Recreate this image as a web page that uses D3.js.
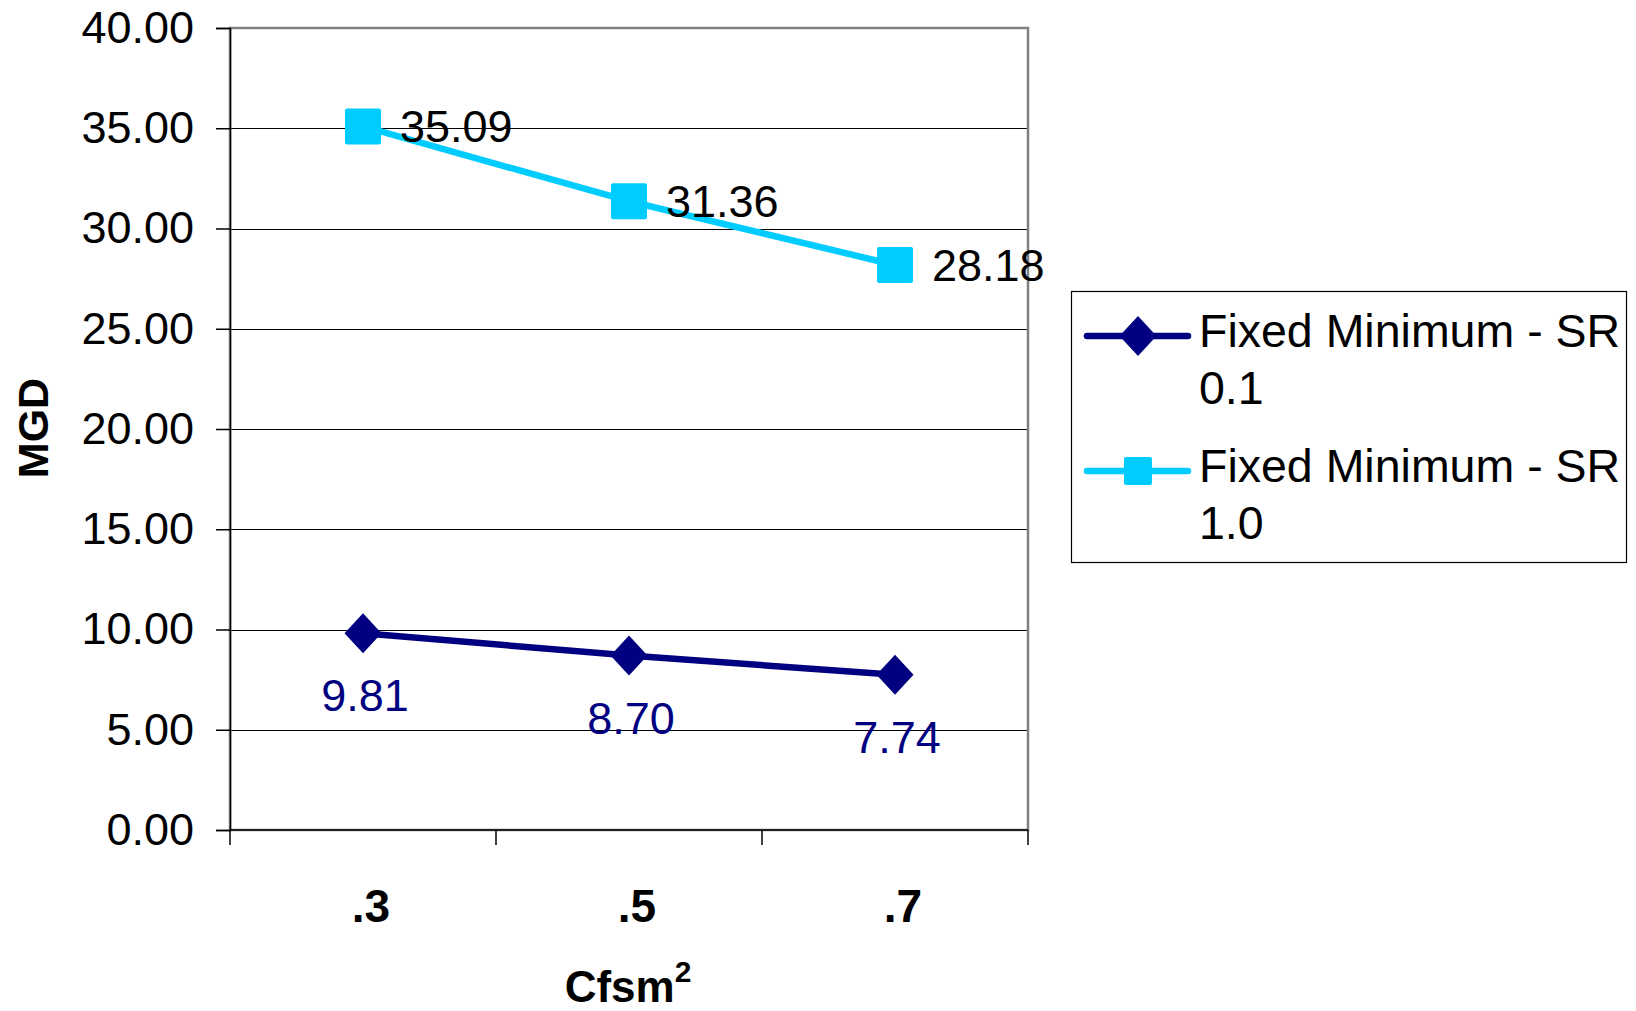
<!DOCTYPE html>
<html>
<head>
<meta charset="utf-8">
<script src="https://cdn.jsdelivr.net/npm/d3@7"></script>
<style>
  html, body { margin: 0; padding: 0; background: #fff; }
  svg { display: block; font-family: "Liberation Sans", Arial, sans-serif; }
</style>
</head>
<body>
<svg id="chart" width="1636" height="1011"></svg>
<script>
// Categories and series values
const categories = [".3", ".5", ".7"];
const seriesSR01 = [9.81, 8.70, 7.74];
const seriesSR10 = [35.09, 31.36, 28.18];
const seriesNames = ["Fixed Minimum - SR 0.1", "Fixed Minimum - SR 1.0"];
const yTicks = [0, 5, 10, 15, 20, 25, 30, 35, 40];

const navy = "#000080";
const cyan = "#00CCFF";

const svg = d3.select("#chart");

const plot = { left: 230, right: 1028, top: 28, bottom: 830 };

const x = d3.scaleBand().domain(categories).range([plot.left, plot.right]).padding(0);
const y = d3.scaleLinear().domain([0, 40]).range([plot.bottom, plot.top]);

// Horizontal gridlines
svg.append("g")
  .selectAll("line")
  .data(yTicks.filter(d => d > 0 && d < 40))
  .join("line")
  .attr("x1", plot.left).attr("x2", plot.right)
  .attr("y1", d => Math.round(y(d)) + 0.5).attr("y2", d => Math.round(y(d)) + 0.5)
  .attr("stroke", "#000").attr("stroke-width", 1.2);

// Plot area border
svg.append("rect")
  .attr("x", plot.left).attr("y", plot.top)
  .attr("width", plot.right - plot.left).attr("height", plot.bottom - plot.top)
  .attr("fill", "none").attr("stroke", "#808080").attr("stroke-width", 2.5);

// Y axis
const yAxis = d3.axisLeft(y)
  .tickValues(yTicks)
  .tickSize(14)
  .tickPadding(22)
  .tickFormat(d3.format(".2f"));
const gy = svg.append("g")
  .attr("transform", `translate(${plot.left},0)`)
  .call(yAxis);
gy.select(".domain").attr("stroke", "#000").attr("stroke-width", 1.5);
gy.selectAll(".tick line").attr("stroke", "#000").attr("stroke-width", 1.5);
gy.selectAll(".tick text")
  .attr("font-size", 45).attr("fill", "#000")
  .attr("font-family", "Liberation Sans, Arial, sans-serif");

// X axis: ticks on category boundaries, labels at category centres
const boundaries = [plot.left, ...categories.slice(1).map(c => x(c)), plot.right];
const gx = svg.append("g");
gx.append("line")
  .attr("x1", plot.left).attr("x2", plot.right)
  .attr("y1", plot.bottom).attr("y2", plot.bottom)
  .attr("stroke", "#000").attr("stroke-width", 1.5);
gx.selectAll("line.tk")
  .data(boundaries)
  .join("line").attr("class", "tk")
  .attr("x1", d => d).attr("x2", d => d)
  .attr("y1", plot.bottom).attr("y2", plot.bottom + 15)
  .attr("stroke", "#000").attr("stroke-width", 1.5);
gx.selectAll("text")
  .data(categories)
  .join("text")
  .attr("x", d => x(d) + x.bandwidth() / 2 + 8)
  .attr("y", 922)
  .attr("text-anchor", "middle")
  .attr("font-size", 46).attr("font-weight", "bold")
  .text(d => d);

// Axis titles
const xt = svg.append("text")
  .attr("x", 628).attr("y", 1002)
  .attr("text-anchor", "middle")
  .attr("font-size", 44).attr("font-weight", "bold");
xt.append("tspan").text("Cfsm");
xt.append("tspan").attr("font-size", 30).attr("dy", -20).text("2");

svg.append("text")
  .attr("transform", "translate(48,428) rotate(-90)")
  .attr("text-anchor", "middle")
  .attr("font-size", 43).attr("font-weight", "bold")
  .text("MGD");

// Series lines
const cx = c => x(c) + x.bandwidth() / 2;
const line = d3.line().x(d => cx(d.c)).y(d => y(d.v));
const dataSR01 = categories.map((c, i) => ({ c, v: seriesSR01[i] }));
const dataSR10 = categories.map((c, i) => ({ c, v: seriesSR10[i] }));

svg.append("path").datum(dataSR01)
  .attr("d", line).attr("fill", "none")
  .attr("stroke", navy).attr("stroke-width", 6.5).attr("stroke-linejoin", "round");
svg.append("path").datum(dataSR10)
  .attr("d", line).attr("fill", "none")
  .attr("stroke", cyan).attr("stroke-width", 6.5).attr("stroke-linejoin", "round");

// Markers
const diamond = "M0,-20 L18.5,0 L0,20 L-18.5,0 Z";
svg.append("g").selectAll("path")
  .data(dataSR01).join("path")
  .attr("d", diamond)
  .attr("transform", d => `translate(${cx(d.c)},${y(d.v)})`)
  .attr("fill", navy);
svg.append("g").selectAll("rect")
  .data(dataSR10).join("rect")
  .attr("x", d => cx(d.c) - 18).attr("y", d => y(d.v) - 18)
  .attr("width", 36).attr("height", 36).attr("rx", 2)
  .attr("fill", cyan);

// Data labels
svg.append("g").selectAll("text")
  .data(dataSR01).join("text")
  .attr("x", d => cx(d.c) + 2).attr("y", d => y(d.v) + 78)
  .attr("text-anchor", "middle")
  .attr("font-size", 45).attr("fill", navy)
  .text(d => d.v.toFixed(2));
svg.append("g").selectAll("text")
  .data(dataSR10).join("text")
  .attr("x", d => cx(d.c) + 37).attr("y", d => y(d.v) + 16)
  .attr("font-size", 45).attr("fill", "#000")
  .text(d => d.v.toFixed(2));

// Legend
const legend = svg.append("g");
legend.append("rect")
  .attr("x", 1071.5).attr("y", 291.5).attr("width", 555).attr("height", 271)
  .attr("fill", "#fff").attr("stroke", "#000").attr("stroke-width", 1.2);

const legendItems = [
  { name: seriesNames[0], color: navy, shape: "diamond", y: 336 },
  { name: seriesNames[1], color: cyan, shape: "square", y: 471 }
];
legendItems.forEach(it => {
  legend.append("line")
    .attr("x1", 1087).attr("x2", 1188)
    .attr("y1", it.y).attr("y2", it.y)
    .attr("stroke", it.color).attr("stroke-width", 6.5).attr("stroke-linecap", "round");
  if (it.shape === "diamond") {
    legend.append("path").attr("d", diamond)
      .attr("transform", `translate(1138,${it.y})`).attr("fill", it.color);
  } else {
    legend.append("rect")
      .attr("x", 1138 - 14).attr("y", it.y - 14).attr("width", 28).attr("height", 28)
      .attr("rx", 2).attr("fill", it.color);
  }
  const words = it.name.split(" ");
  const t = legend.append("text").attr("font-size", 46.5).attr("fill", "#000");
  t.append("tspan").attr("x", 1199).attr("y", it.y + 11).text(words.slice(0, 4).join(" "));
  t.append("tspan").attr("x", 1199).attr("y", it.y + 68).text(words.slice(4).join(" "));
});
</script>
</body>
</html>
